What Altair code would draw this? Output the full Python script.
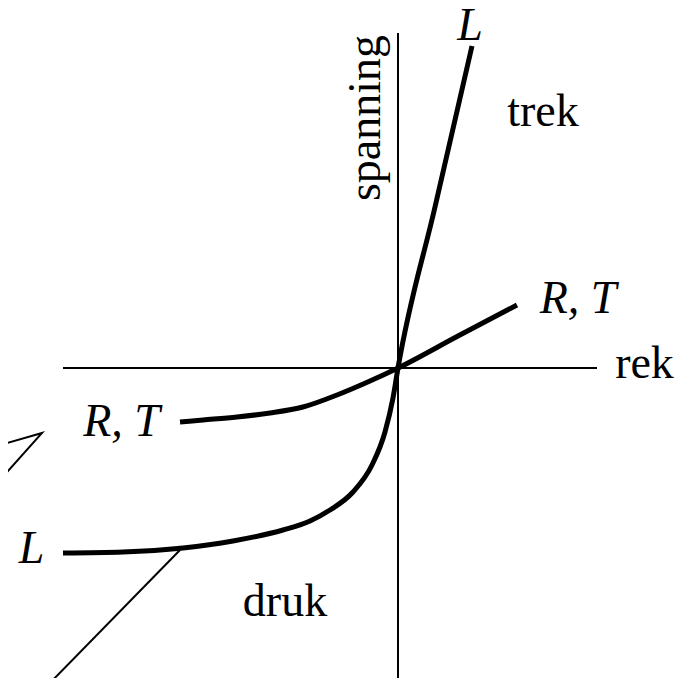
import altair as alt
import pandas as pd

# curve data (rek = strain, spanning = stress), origin where the axes cross
l_rek = [7.4, 3.7, 0.0, -0.5, -1.3, -2.6, -4.5, -6.8, -8.8, -11.5, -16.5, -21.5, -27.5, -33.5]
l_span = [32.2, 16.1, 0.0, -3.0, -6.4, -9.7, -12.4, -14.2, -15.3, -16.2, -17.3, -18.0, -18.4, -18.5]

rt_rek = [11.9, 6.0, 0.0, -2.8, -6.1, -9.5, -12.8, -16.1, -19.5, -21.8]
rt_span = [6.3, 3.2, 0.0, -1.3, -2.7, -3.9, -4.5, -4.9, -5.2, -5.4]

# axis lines
hax_rek = [-33.5, 19.9]
hax_span = [0.0, 0.0]
vax_rek = [0.0, 0.0]
vax_span = [33.5, -31.0]

# thin pointer lines
wedge_rek = [-39.8, -35.6, -39.8]
wedge_span = [-7.7, -6.5, -11.2]
ptr_rek = [-21.8, -35.1]
ptr_span = [-18.2, -31.8]

# labels
lab_text = ["L", "trek", "R, T", "rek", "R, T", "L", "druk"]
lab_rek = [7.2, 14.5, 18.0, 24.65, -27.65, -36.65, -11.3]
lab_span = [32.8, 24.2, 5.5, -1.0, -6.8, -19.5, -24.8]
lab_italic = [True, False, True, False, True, True, False]

ylab_text = ["spanning"]
ylab_rek = [-1.8]
ylab_span = [25.0]

XD = [-39.0, 28.8]
YD = [-31.0, 36.0]
FONT = "Liberation Serif"
FS = 46

xs = alt.Scale(domain=XD, nice=False, zero=False)
ys = alt.Scale(domain=YD, nice=False, zero=False)

curves = pd.DataFrame(
    {"rek": l_rek + rt_rek,
     "span": l_span + rt_span,
     "s": ["L"] * len(l_rek) + ["RT"] * len(rt_rek)}
)

thin_rows = []
for i, (a, b) in enumerate(zip(hax_rek, hax_span)):
    thin_rows.append({"rek": a, "span": b, "s": "hax", "i": i})
for i, (a, b) in enumerate(zip(vax_rek, vax_span)):
    thin_rows.append({"rek": a, "span": b, "s": "vax", "i": i})
for i, (a, b) in enumerate(zip(wedge_rek, wedge_span)):
    thin_rows.append({"rek": a, "span": b, "s": "wedge", "i": i})
for i, (a, b) in enumerate(zip(ptr_rek, ptr_span)):
    thin_rows.append({"rek": a, "span": b, "s": "ptr", "i": i})
thin = pd.DataFrame(thin_rows)

labels = pd.DataFrame({"t": lab_text, "rek": lab_rek, "span": lab_span, "it": lab_italic})
ylab = pd.DataFrame({"t": ylab_text, "rek": ylab_rek, "span": ylab_span})

X = alt.X("rek:Q", scale=xs, axis=None)
Y = alt.Y("span:Q", scale=ys, axis=None)

thin_layer = alt.Chart(thin).mark_line(color="black", strokeWidth=2).encode(
    x=X, y=Y, detail="s:N", order="i:Q"
)

curve_layer = alt.Chart(curves).mark_line(
    color="black", strokeWidth=5, interpolate="monotone"
).encode(x=X, y=Y, detail="s:N")

ital = alt.Chart(labels).transform_filter("datum.it").mark_text(
    font=FONT, fontSize=FS, fontStyle="italic", align="center", baseline="alphabetic", color="black"
).encode(x=X, y=Y, text="t:N")

norm = alt.Chart(labels).transform_filter("!datum.it").mark_text(
    font=FONT, fontSize=FS, align="center", baseline="alphabetic", color="black"
).encode(x=X, y=Y, text="t:N")

yl = alt.Chart(ylab).mark_text(
    font=FONT, fontSize=FS, align="center", baseline="alphabetic", angle=270, color="black"
).encode(x=X, y=Y, text="t:N")

chart = alt.layer(thin_layer, curve_layer, ital, norm, yl).properties(
    width=678, height=670, padding=0, autosize=alt.AutoSizeParams(type="none")
).configure_view(stroke=None)

chart.save("out.html", embed_options={"renderer": "svg", "actions": False})
